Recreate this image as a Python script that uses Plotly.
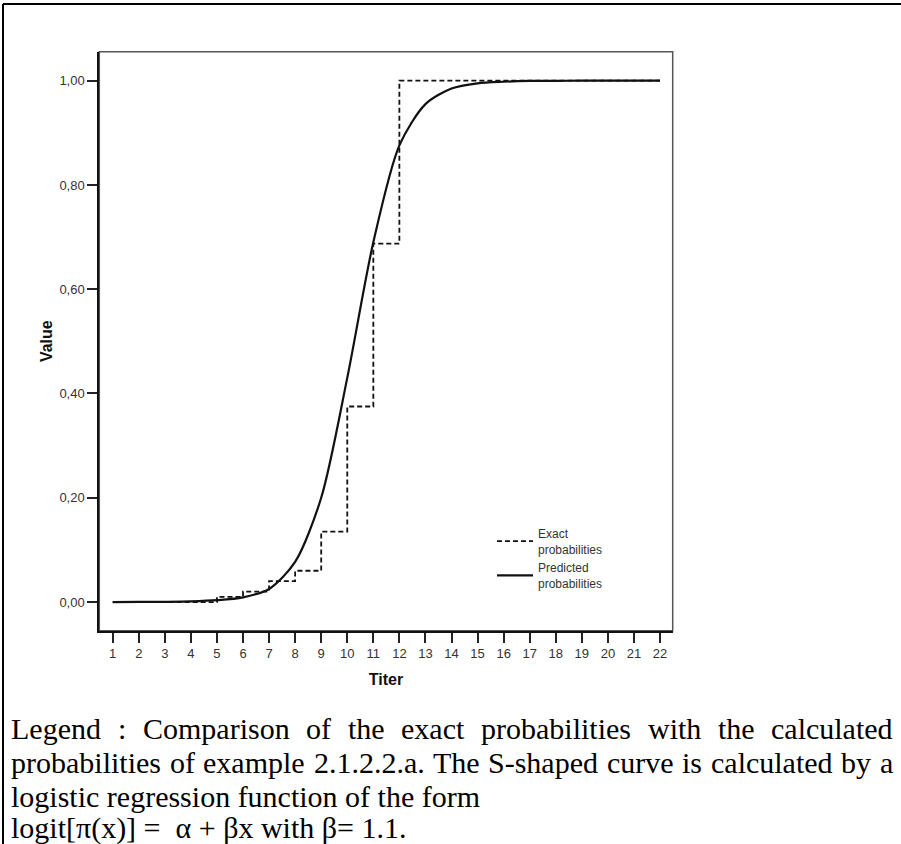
import plotly.graph_objects as go

# ---------------- data ----------------
titer = list(range(1, 23))
exact_prob = [0, 0, 0, 0, 0.01, 0.02, 0.04, 0.06, 0.135, 0.375, 0.6875,
              1, 1, 1, 1, 1, 1, 1, 1, 1, 1, 1]
predicted_prob = [0.0000, 0.0001, 0.0004, 0.0012, 0.0035, 0.009, 0.025, 0.077,
                  0.20, 0.43, 0.69, 0.876, 0.955, 0.985, 0.995, 0.998, 0.9995,
                  0.9998, 1.0, 1.0, 1.0, 1.0]
y_ticks = [0, 0.2, 0.4, 0.6, 0.8, 1.0]

caption_line1 = "Legend : Comparison of the exact probabilities with the calculated"
caption_line2 = "probabilities of example 2.1.2.2.a. The S-shaped curve is calculated by a"
caption_line3 = "logistic regression function of the form"
caption_line4 = "logit[\u03c0(x)] =  \u03b1 + \u03b2x with \u03b2= 1.1."

# ---------------- layout helpers ----------------
W, H = 901, 844


def px(x):
    return x / W


def py(y):
    return 1 - y / H


SANS = "Arial, Liberation Sans, sans-serif"
SERIF = "Times New Roman, Liberation Serif, serif"
CAP_SIZE = 30

# Times New Roman advance widths (per 1000 em)
TW = {'a': 444, 'b': 500, 'c': 444, 'd': 500, 'e': 444, 'f': 333, 'g': 500, 'h': 500,
      'i': 278, 'l': 278, 'm': 778, 'n': 500, 'o': 500, 'p': 500, 'r': 333, 's': 389,
      't': 278, 'u': 500, 'v': 500, 'w': 722, 'x': 500, 'y': 500, 'L': 611, 'C': 667,
      'T': 611, 'S': 556, ':': 278, '.': 250, '-': 333, '1': 500, '2': 500, ' ': 250}


def word_w(w):
    return sum(TW.get(c, 500) for c in w) * CAP_SIZE / 1000.0


def justified(line, x_left, x_right, y_center):
    words = line.split(" ")
    widths = [word_w(w) for w in words]
    gap = (x_right - x_left - sum(widths)) / (len(words) - 1)
    anns = []
    x = x_left
    for w, wd in zip(words, widths):
        anns.append(dict(text=w, x=px(x), y=py(y_center), xref="paper", yref="paper",
                         xanchor="left", yanchor="middle", showarrow=False, borderpad=0,
                         font=dict(family=SERIF, size=CAP_SIZE, color="black")))
        x += wd + gap
    return anns


# ---------------- figure ----------------
fig = go.Figure()

fig.add_trace(go.Scatter(
    x=titer, y=exact_prob, mode="lines", name="Exact<br>probabilities",
    line=dict(color="#111111", width=1.8, dash="5px,3px", shape="hv"),
    hoverinfo="skip"))

fig.add_trace(go.Scatter(
    x=titer, y=predicted_prob, mode="lines", name="Predicted<br>probabilities",
    line=dict(color="#111111", width=2.2, shape="spline", smoothing=0.8),
    hoverinfo="skip"))

annotations = []
annotations += justified(caption_line1, 10, 892, 728)
annotations += justified(caption_line2, 10, 892, 762)
for txt, yc in [(caption_line3, 796), (caption_line4, 828)]:
    annotations.append(dict(text=txt, x=px(10), y=py(yc), xref="paper", yref="paper",
                            xanchor="left", yanchor="middle", showarrow=False, borderpad=0,
                            font=dict(family=SERIF, size=CAP_SIZE, color="black")))

shapes = [
    # gray frame of the plot box
    dict(type="rect", xref="x domain", yref="y domain", x0=0, x1=1, y0=0, y1=1,
         line=dict(color="#555555", width=1.5), layer="below"),
    # outer page frame (top and left)
    dict(type="line", xref="paper", yref="paper", x0=px(3), x1=1, y0=py(4), y1=py(4),
         line=dict(color="black", width=2)),
    dict(type="line", xref="paper", yref="paper", x0=px(3), x1=px(3), y0=py(4), y1=0,
         line=dict(color="black", width=2)),
]

fig.update_layout(
    width=W, height=H,
    margin=dict(l=0, r=0, t=0, b=0),
    paper_bgcolor="white", plot_bgcolor="white",
    separators=",.",
    font=dict(family=SANS, color="#333333"),
    showlegend=True,
    legend=dict(x=px(492), y=py(519), xanchor="left", yanchor="top",
                bgcolor="rgba(0,0,0,0)", borderwidth=0, itemwidth=36,
                font=dict(family=SANS, size=12, color="#333333"),
                valign="middle", tracegroupgap=2),
    xaxis=dict(domain=[px(99.3), px(672.7)], range=[0.486, 22.487],
               tickmode="array", tickvals=titer, ticks="outside", ticklen=10,
               tickwidth=2, tickcolor="#222222", showline=True, linecolor="#111111",
               linewidth=2, showgrid=False, zeroline=False,
               tickfont=dict(family=SANS, size=13, color="#333333"),
               title=dict(text="<b>Titer</b>", standoff=14,
                          font=dict(family=SANS, size=16, color="#111111"))),
    yaxis=dict(domain=[py(630.7), py(51.7)], range=[-0.055, 1.0556],
               tickmode="array", tickvals=y_ticks, tickformat=".2f",
               ticks="outside", ticklen=10, tickwidth=2, tickcolor="#222222",
               showline=True, linecolor="#111111", linewidth=2,
               showgrid=False, zeroline=False,
               tickfont=dict(family=SANS, size=13, color="#333333"),
               title=dict(text="<b>Value</b>", standoff=3,
                          font=dict(family=SANS, size=16, color="#111111"))),
    annotations=annotations,
    shapes=shapes,
)

fig.write_html("out.html", config={"displayModeBar": False},
               post_script="document.body.style.margin='0';document.body.style.overflow='hidden';")
